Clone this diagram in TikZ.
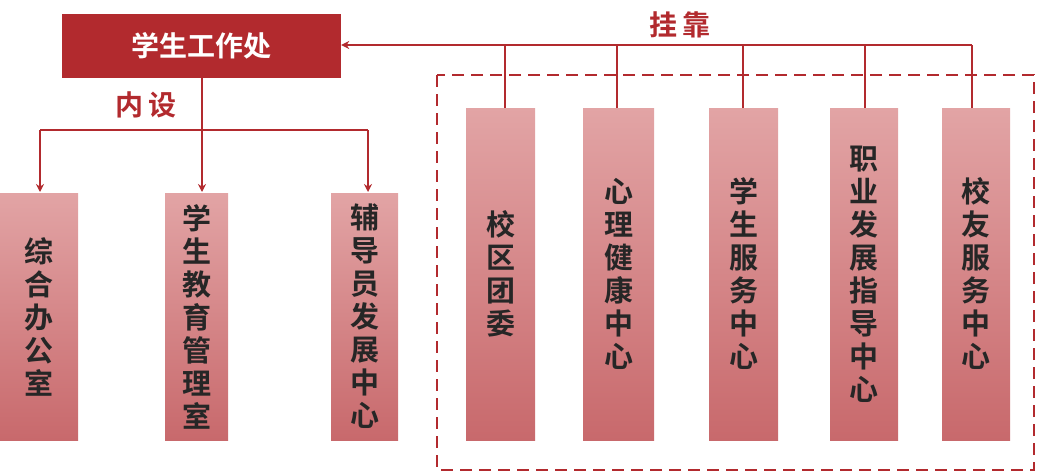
\documentclass[tikz,border=0pt]{standalone}
\usepackage{fontspec}
\newfontfamily\cjk{Noto Sans CJK SC}[BoldFont={Noto Sans CJK SC Bold}]
\usetikzlibrary{arrows.meta}
\definecolor{dred}{HTML}{B22A2E}
\definecolor{ptop}{HTML}{E2A4A5}
\definecolor{pbot}{HTML}{C8696C}
\tikzset{
  x=1pt,y=-1pt,
  vbox/.style={top color=ptop,bottom color=pbot,draw=none,inner sep=0pt},
  vtxt/.style={font=\cjk\bfseries\fontsize{29}{33}\selectfont,text=black!85,align=center},
  conn/.style={draw=dred,line width=1.8pt},
  arr/.style={conn,-{Stealth[length=8pt,width=8pt]}},
  lab/.style={font=\cjk\bfseries\fontsize{28}{30}\selectfont,text=dred}
}
\newcommand{\vb}[6]{% name x1 y1 x2 y2 text
  \path[vbox] (#2,#3) rectangle (#4,#5);
  \node[vtxt] (#1) at ({(#2+#4)/2},{(#3+#5)/2}) {#6};
  \coordinate (#1t) at ({(#2+#4)/2},#3);}
\begin{document}
\begin{tikzpicture}
\useasboundingbox (0,0) rectangle (1039,474);
\node[fill=dred,minimum width=279pt,minimum height=64pt,inner sep=0pt,text=white,font=\cjk\bfseries\fontsize{28}{30}\selectfont] (top) at (201.5,46) {学生工作处};
\draw[dred,line width=2.5pt,dash pattern=on 12pt off 7pt] (437,75) rectangle (1034,470);
\vb{a}{0}{193}{78}{440}{综\\合\\办\\公\\室}
\vb{b}{165}{193}{228}{440}{学\\生\\教\\育\\管\\理\\室}
\vb{c}{331}{193}{398}{440}{辅\\导\\员\\发\\展\\中\\心}
\vb{d}{466}{108}{535}{440}{校\\区\\团\\委}
\vb{e}{583}{108}{654}{440}{心\\理\\健\\康\\中\\心}
\vb{f}{709}{108}{778}{440}{学\\生\\服\\务\\中\\心}
\vb{g}{830}{108}{898}{440}{职\\业\\发\\展\\指\\导\\中\\心}
\vb{h}{942}{108}{1010}{440}{校\\友\\服\\务\\中\\心}
% 内设
\coordinate (j) at (202,130);
\draw[conn] (top.south -| j) -- (j);
\draw[conn] (40,130) -- (368,130);
\draw[arr] (40,130) -- (40,192);
\draw[arr] (202,130) -- (202,192);
\draw[arr] (368,130) -- (368,192);
\node[lab] (ns) at (146,105) {内\hspace{6pt}设};
% 挂靠
\coordinate (r) at (972,45);
\draw[arr] (r) -- (top.east |- r);
\foreach \n/\xx in {d/505,e/617,f/743,g/865,h/972}
  \draw[conn] (\xx,108) -- (\xx,45);
\node[lab] (gk) at (680,25) {挂\hspace{6pt}靠};
\end{tikzpicture}
\end{document}
